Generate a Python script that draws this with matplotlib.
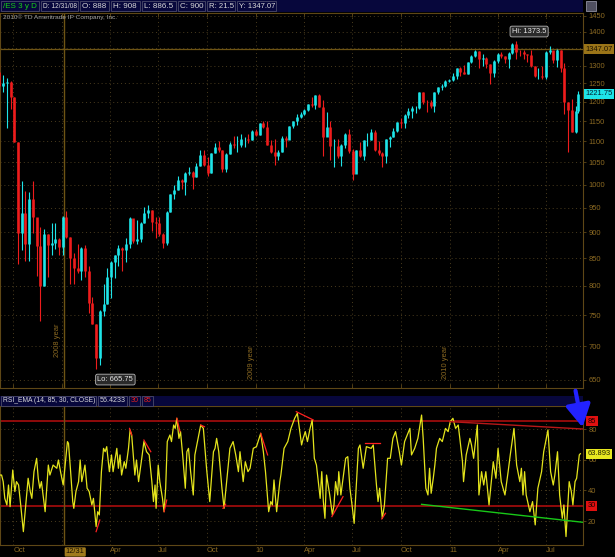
import numpy as np
import matplotlib.pyplot as plt
import matplotlib.dates as mdates
from matplotlib.patches import Rectangle, FancyArrowPatch
from matplotlib.ticker import FixedLocator, NullLocator

plt.rcParams['font.family'] = ['Liberation Sans', 'DejaVu Sans']

# ---- 週足データ (/ES, 終値・高値・安値) ----
close_2008 = [1242, 1252, 1255, 1213, 1099, 899, 940, 877, 968, 930, 873, 800, 896, 876, 879, 887, 872]
high_2008 = [1303, 1274, 1266, 1256, 1213, 1099, 1008, 985, 984, 1007, 927, 910, 906, 896, 919, 918, 888]
low_2008 = [1217, 1225, 1133, 1182, 1098, 840, 865, 845, 845, 899, 818, 741, 800, 815, 856, 867, 857]

close_2009 = [931, 890, 850, 832, 826, 869, 827, 770, 735, 683, 756, 768, 816, 843, 857, 870, 866,
              877, 929, 883, 887, 919, 940, 946, 921, 918, 896, 879, 941, 979, 987, 1010, 1005, 1026,
              1029, 1016, 1042, 1068, 1044, 1025, 1071, 1087, 1080, 1036, 1069, 1093, 1091, 1091,
              1106, 1106, 1102, 1126, 1115]
high_2009 = [934, 943, 891, 860, 877, 871, 876, 835, 780, 736, 758, 803, 832, 845, 857, 875, 871,
             888, 930, 920, 924, 920, 951, 956, 945, 930, 931, 898, 943, 979, 999, 1018, 1013, 1027,
             1039, 1031, 1049, 1080, 1080, 1062, 1073, 1096, 1101, 1080, 1071, 1099, 1113, 1112,
             1119, 1110, 1118, 1128, 1130]
low_2009 = [857, 888, 804, 804, 822, 811, 815, 754, 735, 665.75, 672, 749, 768, 779, 814, 836, 826,
            843, 870, 879, 878, 881, 918, 928, 903, 888, 892, 869, 875, 941, 969, 987, 990, 978,
            1021, 991, 1016, 1042, 1041, 1020, 1025, 1071, 1075, 1029, 1029, 1069, 1085, 1074,
            1086, 1086, 1096, 1102, 1114]

close_2010 = [1145, 1136, 1092, 1074, 1066, 1075, 1109, 1104, 1139, 1150, 1160, 1167, 1179, 1194,
              1192, 1217, 1187, 1111, 1136, 1088, 1089, 1065, 1092, 1117, 1076, 1023, 1078, 1065,
              1102, 1102, 1122, 1079, 1071, 1065, 1105, 1110, 1126, 1149, 1146, 1166, 1176, 1183,
              1183, 1226, 1200, 1199, 1190, 1225, 1240, 1244, 1257, 1258]
high_2010 = [1145, 1150, 1151, 1103, 1105, 1080, 1112, 1112, 1139, 1151, 1169, 1174, 1181, 1195,
             1213, 1218, 1220, 1205, 1173, 1150, 1106, 1105, 1093, 1120, 1131, 1082, 1078, 1099,
             1103, 1120, 1130, 1129, 1100, 1075, 1106, 1112, 1132, 1149, 1159, 1167, 1184, 1189,
             1189, 1227, 1227, 1204, 1204, 1226, 1241, 1247, 1259, 1263]
low_2010 = [1116, 1133, 1090, 1071, 1044, 1056, 1075, 1086, 1105, 1132, 1141, 1157, 1165, 1175,
            1186, 1180, 1186, 1066, 1123, 1056, 1040, 1060, 1042, 1085, 1071, 1010, 1028, 1062,
            1056, 1089, 1102, 1077, 1068, 1040, 1048, 1087, 1111, 1124, 1132, 1133, 1157, 1159,
            1171, 1181, 1194, 1174, 1185, 1173, 1221, 1232, 1241, 1254]

close_2011 = [1271, 1293, 1283, 1276, 1311, 1329, 1343, 1320, 1321, 1304, 1279, 1313, 1332, 1329,
              1320, 1337, 1364, 1340, 1338, 1333, 1331, 1300, 1271, 1271, 1268, 1340, 1344, 1316,
              1345, 1292, 1199, 1179, 1124, 1177, 1221.75]
high_2011 = [1278, 1293, 1296, 1302, 1311, 1330, 1344, 1343, 1332, 1325, 1304, 1315, 1337, 1339,
             1329, 1338, 1366, 1373.5, 1346, 1346, 1334, 1345, 1300, 1292, 1298, 1341, 1356, 1343,
             1347, 1345, 1307, 1199, 1208, 1190, 1230]
low_2011 = [1256, 1262, 1271, 1275, 1276, 1306, 1324, 1294, 1298, 1292, 1249, 1268, 1306, 1321,
            1306, 1294, 1332, 1318, 1328, 1318, 1311, 1297, 1268, 1262, 1262, 1262, 1334, 1306,
            1295, 1282, 1168, 1074.75, 1122, 1120, 1172]

first_open = 1282

# ---- RSI_EMA(14) : 2008-09-06 からの日数と値 ----
rsi_day = [0, 3, 6, 9, 13, 16, 19, 24, 28, 31, 35, 39, 44, 49, 53, 57, 60, 64, 69, 72,
           75, 78, 85, 91, 94, 100, 107, 110, 114, 119, 127, 129, 133, 137, 139, 143, 148, 151, 154, 160,
           164, 168, 173, 176, 181, 184, 187, 191, 195, 198, 201, 206, 210, 213, 220, 223, 226, 229, 234, 237,
           242, 245, 248, 254, 257, 261, 267, 271, 276, 281, 286, 289, 292, 294, 298, 301, 306, 309, 312, 315,
           320, 323, 327, 330, 333, 337, 340, 344, 349, 352, 355, 359, 364,
           367, 378, 383, 389, 395, 402, 405, 408, 412, 418, 422, 425, 433, 439, 444, 449, 452, 458, 462, 467,
           471, 477, 483, 488, 491, 496, 500, 506, 510, 513, 516, 521, 527, 529, 535, 542, 548, 555, 560, 563,
           568, 571, 575, 579, 584, 588, 592, 596, 603, 606, 609, 612, 615, 621, 626, 629, 632, 636, 638, 642,
           651, 655, 659, 663, 667, 675, 678, 684, 690, 699, 703, 709, 712, 715, 720, 724, 730,
           735, 740, 745, 752, 756, 762, 772, 775, 781, 787, 794, 797, 802, 806, 809, 812, 816, 819, 822, 828,
           833, 839, 844, 848, 853, 858, 863, 866, 871, 873, 878, 885, 888, 892, 899, 902, 907, 911, 915, 921,
           929, 934, 938, 944, 951, 957, 961, 968, 973, 979, 982, 985, 988, 991, 998, 1003, 1008, 1013, 1020, 1024,
           1032, 1037, 1042, 1045, 1050, 1054, 1059, 1062, 1066, 1072, 1076, 1079, 1083, 1086, 1091, 1093]
rsi_val = [50.0, 50.0, 45.7, 34.8, 30.5, 43.5, 29.4, 53.3, 39.2, 45.7, 43.5, 30.5, 13.1, 32.7, 47.9, 39.2, 34.8, 52.2, 60.9, 47.9,
           41.4, 45.7, 26.1, 56.5, 50.0, 56.5, 54.4, 59.8, 52.2, 43.5, 71.8, 70.7, 52.2, 32.7, 28.3, 39.2, 45.7, 59.8, 45.7, 56.5,
           41.4, 39.2, 30.5, 34.8, 16.4, 26.1, 24.0, 52.2, 67.4, 65.2, 68.5, 52.2, 63.1, 52.2, 67.4, 54.4, 63.1, 50.0, 58.7, 54.4,
           67.4, 79.4, 76.1, 50.0, 59.8, 45.7, 60.9, 71.8, 65.2, 63.1, 45.7, 32.7, 43.5, 28.3, 56.5, 45.7, 34.8, 26.1, 41.4, 71.8,
           76.1, 71.8, 82.6, 80.4, 87.0, 73.9, 78.3, 63.1, 41.4, 65.2, 67.4, 52.2, 37.0,
           63.1, 82.6, 80.4, 54.4, 32.7, 65.2, 67.4, 73.9, 65.2, 41.4, 28.3, 39.2, 67.4, 71.8, 63.1, 52.2, 65.2, 45.7, 58.7, 52.2,
           54.4, 67.4, 68.5, 73.9, 77.2, 65.2, 52.2, 26.1, 32.7, 30.5, 46.8, 26.1, 45.7, 50.0, 67.4, 71.8, 80.4, 87.0, 90.2, 82.6,
           69.6, 73.9, 78.3, 71.8, 80.4, 85.9, 60.9, 56.5, 34.8, 52.2, 32.7, 21.8, 50.0, 37.0, 24.0, 30.5, 45.7, 37.0, 52.2, 37.0,
           60.9, 62.0, 41.4, 30.5, 18.5, 67.4, 69.6, 54.4, 68.5, 67.4, 69.6, 43.5, 32.7, 41.4, 21.8, 30.5, 60.9,
           60.9, 73.9, 78.3, 65.2, 56.5, 71.8, 80.4, 63.1, 67.4, 73.9, 89.1, 73.9, 41.4, 37.0, 54.4, 38.1, 47.9, 56.5, 67.4, 73.9,
           71.8, 80.4, 78.3, 84.8, 87.0, 80.4, 82.6, 73.9, 58.7, 45.7, 63.1, 73.9, 69.6, 60.9, 82.6, 37.0, 52.2, 43.5, 52.2, 30.5,
           58.7, 47.9, 67.4, 45.7, 37.0, 52.2, 63.1, 80.4, 56.5, 45.7, 54.4, 37.0, 52.2, 37.0, 26.1, 32.7, 17.5, 41.4, 52.2, 65.2,
           79.4, 52.2, 43.5, 50.0, 65.2, 37.0, 21.8, 30.5, 9.9, 45.7, 39.2, 30.5, 45.7, 47.9, 63.1, 63.9]
rsi_last = 63.893

# ダイバージェンスの短い赤線 (日数1, 値1, 日数2, 値2)
rsi_red_marks = [(181, 13.1, 188, 20.7), (244, 80.4, 248, 76.1), (271, 72.8, 284, 65.2),
                 (309, 26.1, 314, 33.7), (333, 87.0, 339, 78.3), (378, 82.6, 385, 81.5),
                 (420, 28.3, 425, 31.0), (491, 77.2, 504, 63.1), (558, 91.3, 590, 85.9),
                 (625, 22.9, 646, 35.9), (688, 70.7, 715, 70.7), (719, 21.4, 726, 25.1)]
rsi_top_trend = (847, 84.8, 1098, 80.0)
rsi_bottom_trend = (794, 30.9, 1098, 19.2)

price_ticks = list(range(650, 1451, 50))
price_tick_labels = [str(t) if t != 1350 else '' for t in price_ticks]   # 1350 は箱に隠れる
rsi_ticks = [20, 40, 60, 80]
quarter_dates = ['2008-10-01', '2009-01-01', '2009-04-01', '2009-07-01', '2009-10-01', '2010-01-01',
                 '2010-04-01', '2010-07-01', '2010-10-01', '2011-01-01', '2011-04-01', '2011-07-01']
quarter_labels = ['Oct', '', 'Apr', 'Jul', 'Oct', '10', 'Apr', 'Jul', 'Oct', '11', 'Apr', 'Jul']
year_lines = [('2008 year', '2009-01-01', 684), ('2009 year', '2010-01-01', 652), ('2010 year', '2011-01-01', 652)]
cursor_date = '2009-01-04'
cursor_price = 1347.07
header_items = ['/ES 3 y D', 'D: 12/31/08', 'O: 888', 'H: 908', 'L: 886.5', 'C: 900', 'R: 21.5', 'Y: 1347.07']
rsi_header_items = ['RSI_EMA (14, 85, 30, CLOSE)', '56.4233', '30', '85']

# ---- 色 ----
BG = '#000000'
CYAN = '#1ee4e8'
RED = '#ee1c1c'
AXC = '#5e4716'
TXT = '#8c6a22'
GRID = '#4a3c1e'
NAVY = '#07073c'
GOLD = '#6e5414'
FS = 5.4

W, H = 615, 557
def fx(x):
    return x / W
def fy(y):
    return 1 - y / H

fig = plt.figure(figsize=(6.15, 5.57), dpi=100, facecolor=BG)
renderer = fig.canvas.get_renderer()


def fit_text(t, max_px):
    # 箱に収まるまで文字を縮める
    w = t.get_window_extent(renderer).width
    if w > max_px:
        t.set_fontsize(t.get_fontsize() * max_px / w)


ax = fig.add_axes([0, fy(388), fx(583), (388 - 13) / H], facecolor=BG)
ax2 = fig.add_axes([0, fy(545), fx(583), (545 - 406) / H], facecolor=BG)

# 日付 -> 数値
start = np.datetime64('2008-09-06')
week_dates = np.arange(np.datetime64('2008-09-05'), np.datetime64('2011-08-27'), np.timedelta64(7, 'D'))
dates = np.append(week_dates, np.datetime64('2011-08-31'))
xd = mdates.date2num(dates)
x0 = mdates.date2num(start)
x1 = x0 + 1098

close = np.array(close_2008 + close_2009 + close_2010 + close_2011, dtype=float)
high = np.array(high_2008 + high_2009 + high_2010 + high_2011, dtype=float)
low = np.array(low_2008 + low_2009 + low_2010 + low_2011, dtype=float)
opens = np.concatenate([[first_open], close[:-1]])
colors = np.where(close >= opens, CYAN, RED)

qx = mdates.date2num(np.array(quarter_dates, dtype='datetime64[D]'))
cx = mdates.date2num(np.datetime64(cursor_date))

# ---- 価格パネル ----
ax.set_yscale('log')
ax.set_xlim(x0, x1)
ax.set_ylim(638.6, 1459.6)
ax.vlines(xd, low, high, colors=colors, lw=0.8, zorder=3)
ax.vlines(xd, np.minimum(opens, close), np.maximum(opens, close), colors=colors, lw=1.9, zorder=3)

ax.yaxis.tick_right()
ax.yaxis.set_major_locator(FixedLocator(price_ticks))
ax.yaxis.set_minor_locator(NullLocator())
ax.set_yticklabels(price_tick_labels)
ax.set_xticks(qx)
ax.set_xticklabels([])
ax.tick_params(axis='y', colors=AXC, labelcolor=TXT, labelsize=FS, length=2.5, width=0.6, pad=1.2)
ax.tick_params(axis='x', colors=AXC, direction='in', length=3, width=0.6, top=True, bottom=True)
ax.grid(True, color=GRID, linestyle=(0, (1, 3)), linewidth=0.7)
for s in ax.spines.values():
    s.set_color(AXC)
    s.set_linewidth(0.8)

ax.axhline(cursor_price, color=GOLD, lw=0.9, zorder=2)
ax.axvline(cx, color=GOLD, lw=1.0, zorder=2)

for name, d, yb in year_lines:
    ax.text(mdates.date2num(np.datetime64(d)) - 2, yb, name, rotation=90, color=TXT,
            fontsize=FS, ha='right', va='bottom')

# 高値・安値ラベル
ih = int(np.argmax(high))
il = int(np.argmin(low))
box = dict(boxstyle='round,pad=0.25', fc='#2a2a2a', ec='#b8b8b8', lw=0.6)
ax.annotate('Hi: %s' % high[ih], (xd[ih], high[ih]), xytext=(-3, 4), textcoords='offset points',
            color='#e8e8e8', fontsize=FS, ha='left', va='bottom', bbox=box, zorder=5)
ax.annotate('Lo: %s' % low[il], (xd[il], low[il]), xytext=(1, -5), textcoords='offset points',
            color='#e8e8e8', fontsize=FS, ha='left', va='top', bbox=box, zorder=5)

# 右側の価格ボックス
ytr = ax.get_yaxis_transform()
ax.text(1.004, cursor_price, '%.2f' % cursor_price, transform=ytr, fontsize=FS, color='#1a1000',
        va='center', ha='left', bbox=dict(boxstyle='square,pad=0.2', fc='#9a7418', ec='none'), zorder=6, clip_on=False)
ax.text(1.004, close[-1], '%.2f' % close[-1], transform=ytr, fontsize=FS, color='#002030',
        va='center', ha='left', bbox=dict(boxstyle='square,pad=0.2', fc=CYAN, ec='none'), zorder=6, clip_on=False)

# ---- RSIパネル ----
rx = x0 + np.array(rsi_day, dtype=float)
ax2.set_xlim(x0, x1)
ax2.set_ylim(4.4, 95.0)
ax2.axhline(85, color='#9c0c0c', lw=1.3, zorder=2)
ax2.axhline(30, color='#9c0c0c', lw=1.3, zorder=2)
ax2.axvline(cx, color=GOLD, lw=1.0, zorder=2)
ax2.plot(rx, rsi_val, color='#e4e41c', lw=0.9, zorder=4)
for d1, v1, d2, v2 in rsi_red_marks:
    ax2.plot([x0 + d1, x0 + d2], [v1, v2], color='#ff2020', lw=0.9, zorder=5)
d1, v1, d2, v2 = rsi_top_trend
ax2.plot([x0 + d1, x0 + d2], [v1, v2], color='#b81818', lw=1.0, zorder=5)
d1, v1, d2, v2 = rsi_bottom_trend
ax2.plot([x0 + d1, x0 + d2], [v1, v2], color='#18c818', lw=1.0, zorder=5)

ax2.yaxis.tick_right()
ax2.set_yticks(rsi_ticks)
ax2.set_yticklabels([str(t) for t in rsi_ticks])
ax2.set_xticks(qx)
ax2.set_xticklabels(quarter_labels, ha='left')
ax2.tick_params(axis='y', colors=AXC, labelcolor=TXT, labelsize=FS, length=2.5, width=0.6, pad=1.2)
ax2.tick_params(axis='x', colors=AXC, labelcolor=TXT, labelsize=FS, length=0, pad=1.8)
ax2.grid(True, color=GRID, linestyle=(0, (1, 3)), linewidth=0.7)
for s in ax2.spines.values():
    s.set_color(AXC)
    s.set_linewidth(0.8)

ytr2 = ax2.get_yaxis_transform()
for val, txt, fc, tc in [(85, '85', '#e01010', '#1a0000'), (30, '30', '#e01010', '#1a0000'),
                         (rsi_last, '%.3f' % rsi_last, '#e8e820', '#202000')]:
    ax2.text(1.008, val, txt, transform=ytr2, fontsize=FS, color=tc, va='center', ha='left',
             bbox=dict(boxstyle='square,pad=0.2', fc=fc, ec='none'), zorder=6, clip_on=False)

ax2.annotate('12/31', (cx, 0), xycoords=('data', 'axes fraction'), xytext=(1.5, -2.5),
             textcoords='offset points', fontsize=FS, color='#1a1000', ha='left', va='top',
             bbox=dict(boxstyle='round,pad=0.15', fc='#a07a1c', ec='none'), annotation_clip=False)

# ---- ヘッダー ----
fig.add_artist(Rectangle((0, fy(12)), fx(583), 12 / H, transform=fig.transFigure, fc=NAVY, ec='none'))
edges = [0, 40, 79, 110, 141, 177, 206, 236, 277]
for i, t in enumerate(header_items):
    fig.add_artist(Rectangle((fx(edges[i] + 1), fy(11)), fx(edges[i + 1] - edges[i] - 2), 10 / H,
                             transform=fig.transFigure, fc=NAVY, ec='#4a4a6a', lw=0.6))
    tt = fig.text(fx(edges[i] + 3), fy(6), t, fontsize=5.8, va='center', ha='left',
                  color='#18d018' if i == 0 else '#d8d8d8')
    fit_text(tt, edges[i + 1] - edges[i] - 5)
fig.add_artist(Rectangle((fx(586), fy(11)), fx(10), 10 / H, transform=fig.transFigure,
                         fc='#505060', ec='#9090a0', lw=0.6))
tt = fig.text(fx(3), fy(17.5), '2010© TD Ameritrade IP Company, Inc.', fontsize=5.8, color='#a8a8a8',
              va='center', ha='left')
fit_text(tt, 113)

fig.add_artist(Rectangle((0, fy(406)), fx(583), 10.5 / H, transform=fig.transFigure, fc=NAVY, ec='none'))
redges = [0, 97, 128, 141, 154]
for i, t in enumerate(rsi_header_items):
    fig.add_artist(Rectangle((fx(redges[i] + 1), fy(405.5)), fx(redges[i + 1] - redges[i] - 2), 9.5 / H,
                             transform=fig.transFigure, fc=NAVY, ec='#4a4a6a', lw=0.6))
    tt = fig.text(fx(redges[i] + 3), fy(400.8), t, fontsize=5.8, va='center', ha='left',
                  color='#e02020' if i >= 2 else '#d8d8d8')
    fit_text(tt, redges[i + 1] - redges[i] - 5)

# 青い矢印
fig.add_artist(FancyArrowPatch((fx(575), fy(388)), (fx(583), fy(430)), transform=fig.transFigure,
                               arrowstyle='-|>,head_length=9,head_width=5', color='#2222ff', lw=3.0,
                               mutation_scale=1.5))

fig.savefig('out.png', dpi=100, facecolor=BG)
